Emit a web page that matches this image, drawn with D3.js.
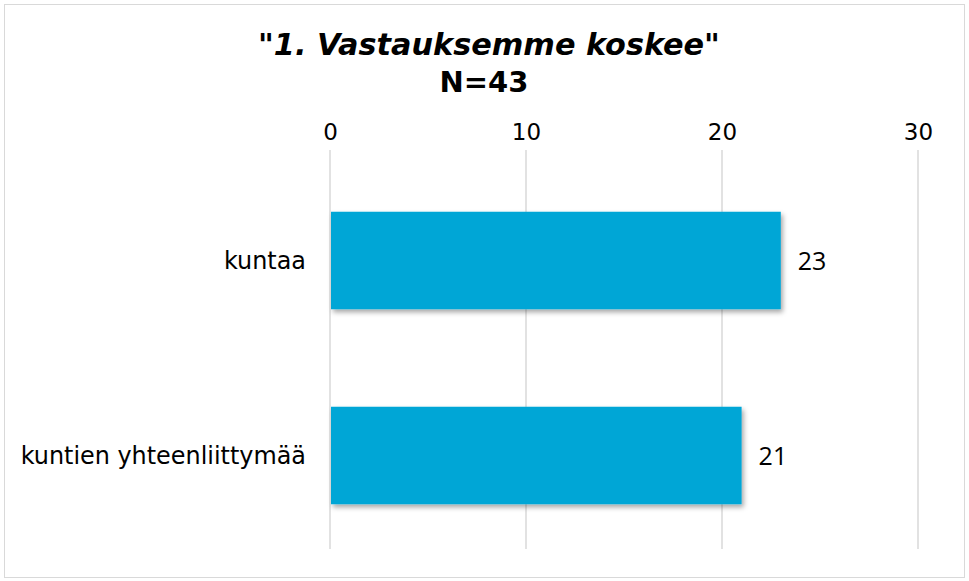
<!DOCTYPE html>
<html><head><meta charset="utf-8">
<script src="https://cdn.jsdelivr.net/npm/d3@7"></script>
<style>body{margin:0;background:#fff}</style>
</head><body>
<script>
const categories = ["kuntaa", "kuntien yhteenliittymää"];
const values = [23, 21];
const tickValues = [0, 10, 20, 30];
const titleLine1 = "\"1. Vastauksemme koskee\"";
const titleLine2 = "N=43";

const W = 969, H = 581;
const svg = d3.select("body").append("svg").attr("width", W).attr("height", H);
const defs = svg.append("defs");
const f = defs.append("filter").attr("id","sh").attr("x","-10%").attr("y","-10%").attr("width","130%").attr("height","140%");
f.append("feDropShadow").attr("dx",2).attr("dy",3).attr("stdDeviation",2.5).attr("flood-color","#000").attr("flood-opacity",0.35);

svg.append("rect").attr("x",4.5).attr("y",4.5).attr("width",960).attr("height",573)
  .attr("fill","#fff").attr("stroke","#d9d9d9").attr("stroke-width",1);

const x = d3.scaleLinear().domain([0,30]).range([330,918]);
const y = d3.scaleBand().domain(categories).range([163,553]).paddingInner(0.5).paddingOuter(0.25);

// gridlines
svg.append("g").selectAll("line").data(tickValues).join("line")
  .attr("x1",d=>x(d)).attr("x2",d=>x(d)).attr("y1",150).attr("y2",549)
  .attr("stroke","#d9d9d9").attr("stroke-width",1.5);

// top axis labels
const ax = svg.append("g").attr("transform","translate(0,140)")
  .call(d3.axisTop(x).tickValues(tickValues).tickSize(0).tickPadding(0).tickFormat(d3.format("d")));
ax.select(".domain").remove();
ax.selectAll("text").attr("font-family","DejaVu Sans, Verdana, sans-serif").attr("font-size",23).attr("fill","#000").attr("dy",0);

// bars
svg.append("g").selectAll("rect").data(values).join("rect")
  .attr("x",x(0)+1).attr("y",(d,i)=>y(categories[i]))
  .attr("width",d=>x(d)-x(0)-1).attr("height",y.bandwidth())
  .attr("fill","#00A6D6").attr("filter","url(#sh)");

// data labels
svg.append("g").selectAll("text").data(values).join("text")
  .attr("x",d=>x(d)+17).attr("y",(d,i)=>y(categories[i])+y.bandwidth()/2+9.5)
  .attr("font-family","Open Sans, sans-serif").attr("font-size",25).attr("fill","#000")
  .text(d=>d);

// category labels
svg.append("g").selectAll("text").data(categories).join("text")
  .attr("x",306).attr("y",d=>y(d)+y.bandwidth()/2+8.5)
  .attr("text-anchor","end")
  .attr("font-family","DejaVu Sans, Verdana, sans-serif").attr("font-size",23.9).attr("fill","#000")
  .text(d=>d);

// title
svg.append("text").attr("x",489).attr("y",55).attr("text-anchor","middle")
  .attr("font-family","DejaVu Sans, Verdana, sans-serif").attr("font-size",30.3)
  .attr("font-weight","bold").attr("font-style","italic").text(titleLine1);
svg.append("text").attr("x",484).attr("y",92).attr("text-anchor","middle")
  .attr("font-family","DejaVu Sans, Verdana, sans-serif").attr("font-size",29)
  .attr("font-weight","bold").text(titleLine2);
</script>
</body></html>
